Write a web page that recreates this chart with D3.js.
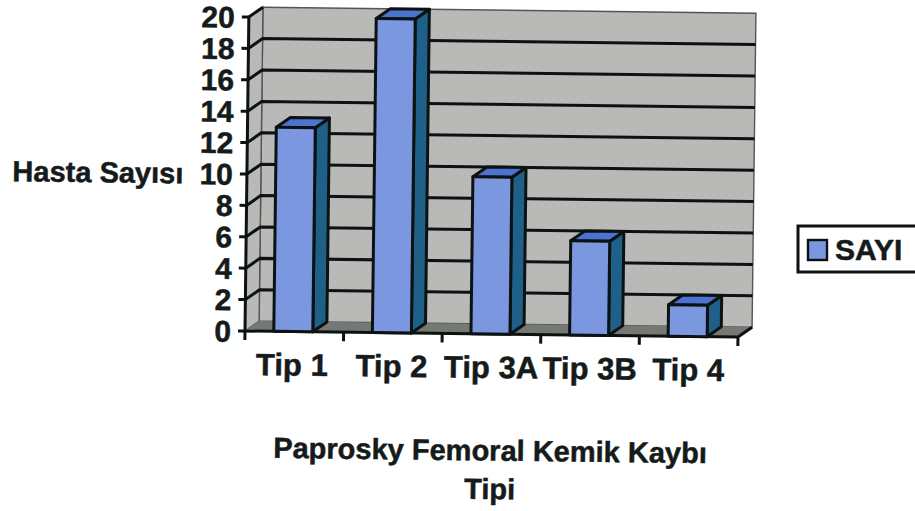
<!DOCTYPE html>
<html><head><meta charset="utf-8">
<script src="https://cdn.jsdelivr.net/npm/d3@7"></script>
<style>html,body{margin:0;background:#fff}svg{display:block}text{font-family:"Liberation Sans",Arial,sans-serif;font-weight:bold;fill:#151a1a;stroke:#151a1a;stroke-width:.5px}</style>
</head><body><svg id="c" width="915" height="511"></svg>
<script>
const categories = ["Tip 1","Tip 2","Tip 3A","Tip 3B","Tip 4"];
const seriesValues = [13,20,10,6,2];
const yTicks = d3.range(0,21,2);
const seriesName = "SAYI";
const yTitle = "Hasta Sayısı";
const xTitleLines = ["Paprosky Femoral Kemik Kaybı","Tipi"];

const svg = d3.select("#c");
const ink = "#0c1212", wall = "#b9b9b7", floor = "#767873", front = "#7b97e0", side = "#1f6088", top_ = "#4a74cf";
const left = 245, right = 738, base = 331, peak = 17;
const dx = 14, dy = -10;          // depth of the chart box
const bdx = 14, bdy = -10;        // depth of a bar

const x = d3.scaleBand().domain(categories).range([left,right]);
const y = d3.scaleLinear().domain([0,20]).range([base,peak]);
const barW = 39;

// The whole plot leans slightly clockwise
const g = svg.append("g").attr("transform",`rotate(0.7 ${left} ${base})`);
const poly = (sel,pts,fill)=>sel.append("polygon").attr("points",pts.map(p=>p.join(",")).join(" ")).attr("fill",fill);

// walls and floor
poly(g,[[left+dx,peak+dy],[right+dx,peak+dy],[right+dx,base+dy],[left+dx,base+dy]],wall).attr("stroke","#555").attr("stroke-width",1.4);
poly(g,[[left,peak],[left+dx,peak+dy],[left+dx,base+dy],[left,base]],wall).attr("stroke","#555").attr("stroke-width",1.4);
poly(g,[[left,base],[left+dx,base+dy],[right+dx,base+dy],[right,base]],floor);

// gridlines over back and side wall; the top one stops at the corner
const grid = g.append("g").attr("stroke",ink).attr("stroke-width",3).attr("fill","none");
yTicks.filter(t=>t>0).forEach(t=>{
  grid.append("path").attr("d",t<20
    ? `M${left},${y(t)}L${left+dx},${y(t)+dy}L${right+dx},${y(t)+dy}`
    : `M${left},${y(t)}L${left+dx},${y(t)+dy}`);
});

// axes
const axisG = g.append("g").attr("stroke",ink).attr("stroke-width",3).attr("fill","none");
axisG.append("path").attr("d",`M${left},${peak}V${base}H${right}L${right+dx},${base+dy}`);
yTicks.forEach(t=>axisG.append("path").attr("d",`M${left-7},${y(t)}H${left}`));
d3.range(categories.length+1).forEach(i=>{
  const px = left + i*x.step();
  axisG.append("path").attr("d",`M${px},${base}v9`);
});

// bars
const bars = g.selectAll("g.bar").data(categories.map((c,i)=>({c,v:seriesValues[i]}))).join("g").attr("class","bar")
  .attr("stroke",ink).attr("stroke-width",3).attr("stroke-linejoin","round");
bars.each(function(d){
  const s = d3.select(this), x0 = x(d.c)+(x.bandwidth()-barW)/2-1, x1 = x0+barW, yT = y(d.v);
  poly(s,[[x1,yT],[x1+bdx,yT+bdy],[x1+bdx,base+bdy],[x1,base]],side);
  poly(s,[[x0,yT],[x0+bdx,yT+bdy],[x1+bdx,yT+bdy],[x1,yT]],top_);
  poly(s,[[x0,yT],[x1,yT],[x1,base],[x0,base]],front);
});

// tick labels
g.append("g").selectAll("text").data(yTicks).join("text")
  .attr("x",left-14).attr("y",t=>y(t)).attr("dy","0.36em").attr("text-anchor","end")
  .attr("font-size",30).text(t=>t);
const xLabelNudge = [-1,0,1,1,1];
g.append("g").selectAll("text").data(categories).join("text")
  .attr("x",(c,i)=>x(c)+x.bandwidth()/2-1+xLabelNudge[i]).attr("y",base+44)
  .attr("text-anchor","middle").attr("font-size",31).text(c=>c);

// titles
g.append("text").attr("x",96).attr("y",184).attr("text-anchor","middle").attr("font-size",29).text(yTitle);
g.selectAll("text.xt").data(xTitleLines).join("text").attr("class","xt")
  .attr("x",491.5).attr("y",(d,i)=>457.5+i*38.5).attr("text-anchor","middle").attr("font-size",29).text(d=>d);

// legend
const lg = svg.append("g");
lg.append("rect").attr("x",798).attr("y",226).attr("width",120).attr("height",46).attr("fill","#fff").attr("stroke",ink).attr("stroke-width",3);
lg.append("rect").attr("x",808).attr("y",240).attr("width",19).attr("height",20).attr("fill",front).attr("stroke",ink).attr("stroke-width",2.4);
lg.append("text").attr("x",835).attr("y",260).attr("font-size",30).text(seriesName);
</script></body></html>
